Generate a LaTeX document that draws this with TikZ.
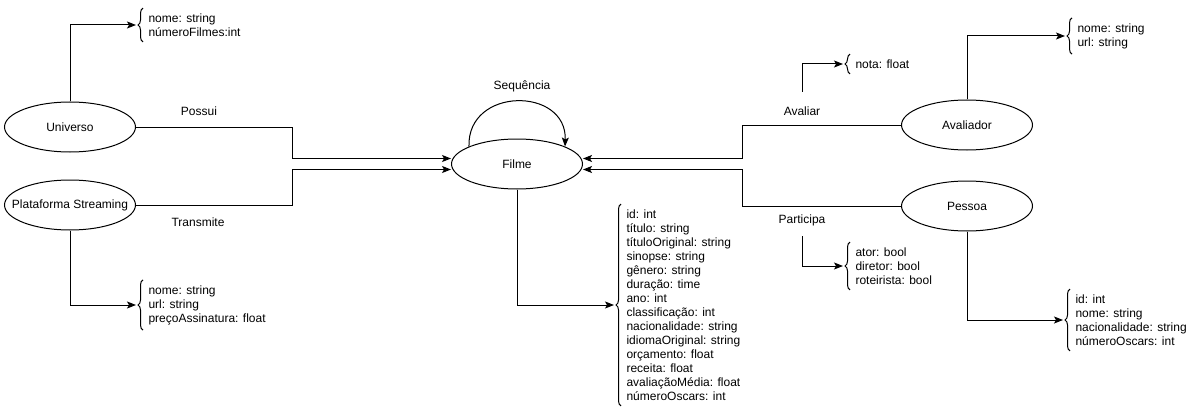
\documentclass[tikz,border=0pt]{standalone}
\usepackage{fontspec}
\setmainfont{Liberation Sans}
\usepackage{tikz}
\usetikzlibrary{positioning}
\usetikzlibrary{shapes.geometric}
\usetikzlibrary{arrows.meta}
\usetikzlibrary{decorations.pathreplacing}

\tikzset{
	ent/.style={draw, ellipse, minimum width=131pt, minimum height=50pt, inner sep=0pt,
		execute at begin node={\hbox to 0pt\bgroup\hss}, execute at end node={\hss\egroup}},
	attr/.style={anchor=west, align=left, inner xsep=0pt, inner ysep=5pt},
	brc/.style={decorate, decoration={brace, amplitude=5pt}},
	arr/.style={-{Stealth[length=9pt, width=7pt, inset=2pt]}},
}

\begin{document}
\begin{tikzpicture}[x=1pt, y=-1pt, line width=1pt, font=\fontsize{12}{14}\selectfont]
	\useasboundingbox (0,0) rectangle (1198,417);
	% Entidades %
	\node [ent] (uni) at (70,127) {Universo};
	\node [ent] (pla) at (70,205) {Plataforma Streaming};
	\node [ent] (fil) at (517,164) {Filme};
	\node [ent] (ava) at (967,125) {Avaliador};
	\node [ent] (pes) at (967,206) {Pessoa};
	% Atributos %
	\node [attr] (uniAttr) at (148,25) {nome: string\\númeroFilmes:int};
	\node [attr] (plaAttr) at (148,305) {nome: string\\url: string\\preçoAssinatura: float};
	\node [attr] (filAttr) at (626,305) {id: int\\título: string\\títuloOriginal: string\\sinopse: string\\gênero: string\\duração: time\\ano: int\\classificação: int\\nacionalidade: string\\idiomaOriginal: string\\orçamento: float\\receita: float\\avaliaçãoMédia: float\\númeroOscars: int};
	\node [attr] (notaAttr) at (855,64) {nota: float};
	\node [attr] (parAttr) at (855,266) {ator: bool\\diretor: bool\\roteirista: bool};
	\node [attr] (avaAttr) at (1077,36) {nome: string\\url: string};
	\node [attr] (pesAttr) at (1075,320) {id: int\\nome: string\\nacionalidade: string\\númeroOscars: int};
	\foreach \a in {uniAttr, plaAttr, filAttr, notaAttr, parAttr, avaAttr, pesAttr}
		\draw [brc] ([xshift=-5pt]\a.south west) -- ([xshift=-5pt]\a.north west);
	% Relacionamentos %
	\node (pos) at (199,111) {Possui};
	\node (tra) at (198,222) {Transmite};
	\node (avl) at (802,111) {Avaliar};
	\node (par) at (802,220) {Participa};
	\node (seq) at (522,86) {Sequência};
	\draw [arr] (uni.east) -- ++(156,0) |- ([yshift=5.5pt]fil.west);
	\draw [arr] (pla.east) -- ++(156,0) |- ([yshift=-5.5pt]fil.west);
	\draw [arr] (ava.west) -- ++(-159,0) |- ([yshift=5.5pt]fil.east);
	\draw [arr] (pes.west) -- ++(-159,0) |- ([yshift=-5.5pt]fil.east);
	\draw [arr] (fil.160) .. controls +(-2,-60) and +(2,-60) .. (fil.20);
	% Ligacoes aos atributos %
	\draw [arr] (uni.north) |- ([xshift=-12pt]uniAttr.west);
	\draw [arr] (pla.south) |- ([xshift=-12pt]plaAttr.west);
	\draw [arr] (fil.south) |- ([xshift=-12pt]filAttr.west);
	\draw [arr] ([yshift=11pt]avl.north) |- ([xshift=-12pt]notaAttr.west);
	\draw [arr] ([yshift=-7pt]par.south) |- ([xshift=-12pt]parAttr.west);
	\draw [arr] (ava.north) |- ([xshift=-12pt]avaAttr.west);
	\draw [arr] (pes.south) |- ([xshift=-12pt]pesAttr.west);
\end{tikzpicture}
\end{document}
